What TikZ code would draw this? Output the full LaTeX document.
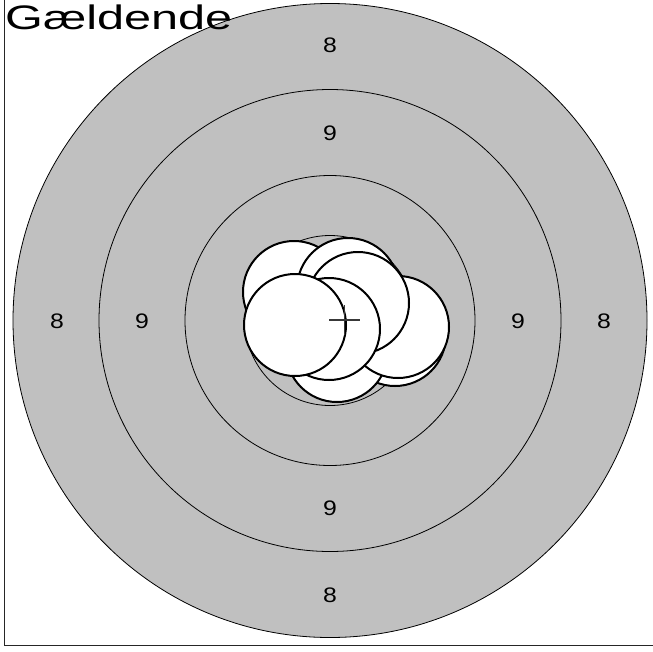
\documentclass[tikz,border=0pt]{standalone}
\usepackage{fontspec}
\setmainfont{Liberation Sans}
\definecolor{ringgray}{HTML}{C0C0C0}
\definecolor{crossgray}{HTML}{383838}
\begin{document}
\begin{tikzpicture}[x=1pt,y=-1pt,
  ringline/.style={draw=black, line width=0.8pt},
  shot/.style={circle, draw=black, fill=white, line width=2pt, minimum size=102pt, inner sep=0pt},
  score/.style={font=\fontsize{21}{21}\selectfont, inner sep=0pt},
  crossline/.style={draw=crossgray, line width=1.6pt},
  frameline/.style={draw=black!85, line width=1.4pt}]
\useasboundingbox (0,0) rectangle (653,651);
\fill[white] (0,0) rectangle (653,651);
\coordinate (c) at (330,320.5);
% target rings
\draw[ringline, fill=ringgray] (c) circle[radius=317];
\draw[ringline] (c) circle[radius=231];
\draw[ringline] (c) circle[radius=145];
\draw[ringline] (c) circle[radius=85];
% score labels
\node[score] (t8) at (330,45) {\scalebox{1.18}[1]{8}};
\node[score] (t9) at (330,133) {\scalebox{1.18}[1]{9}};
\node[score] (l8) at (57,321) {\scalebox{1.18}[1]{8}};
\node[score] (l9) at (142,321) {\scalebox{1.18}[1]{9}};
\node[score] (r9) at (518,321) {\scalebox{1.18}[1]{9}};
\node[score] (r8) at (604,321) {\scalebox{1.18}[1]{8}};
\node[score] (b9) at (330,508) {\scalebox{1.18}[1]{9}};
\node[score] (b8) at (330,595) {\scalebox{1.18}[1]{8}};
% shots
\node[shot] (sE) at (395,335) {};
\node[shot] (sH) at (337,351) {};
\node[shot] (sA) at (294,292) {};
\node[shot] (sB) at (348,289) {};
\node[shot] (sD) at (398,327) {};
\node[shot] (sC) at (358,303) {};
\node[shot] (sG) at (329,329) {};
\node[shot] (sF) at (295,325) {};
% mean point of impact
\coordinate (mpi) at (344.5,320);
\draw[crossline] (mpi) +(-15.5,0) -- +(15.5,0);
\draw[crossline] (mpi) +(0,-15) -- +(0,15);
% title
\node[anchor=base west, inner sep=0pt] (title) at (5,29.5) {\scalebox{1.43}[1]{\fontsize{34}{34}\selectfont Gældende}};
% frame
\coordinate (ftop) at (4.5,0);
\coordinate (fright) at (653,645.5);
\draw[frameline] (ftop) |- (fright);
\end{tikzpicture}
\end{document}
